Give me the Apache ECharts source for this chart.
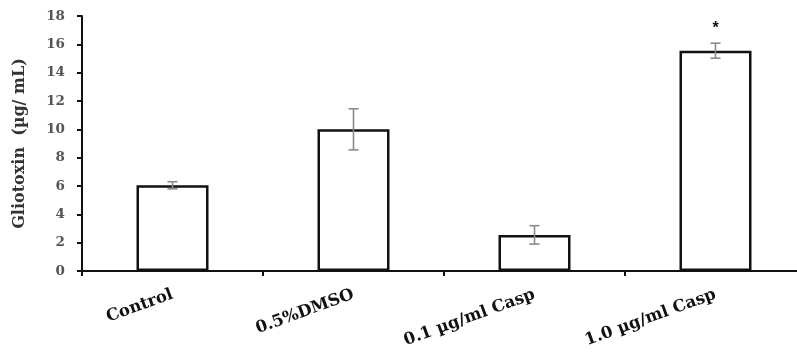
<!DOCTYPE html>
<html>
<head>
<meta charset="utf-8">
<script src="https://cdn.jsdelivr.net/npm/echarts@6/dist/echarts.min.js"></script>
<style>
html, body { margin: 0; padding: 0; background: #fff; }
#chart { width: 797px; height: 352px; }
</style>
</head>
<body>
<div id="chart"></div>
<script>
// groups and measured gliotoxin
const groups = ['Control', '0.5%DMSO', '0.1 µg/ml Casp', '1.0 µg/ml Casp']
const means = [6.05, 10.0, 2.55, 15.55]
const errs = [0.25, 1.45, 0.65, 0.53]
const marks = ['', '', '', '*']
const yTicks = [0, 2, 4, 6, 8, 10, 12, 14, 16, 18]

const chart = echarts.init(document.getElementById('chart'))
const fontFam = '"DejaVu Serif", serif'

const option = {
  backgroundColor: '#fff',
  animation: false,
  grid: {
    left: 82,
    top: 16,
    width: 724,
    bottom: 81,
    outerBoundsMode: 'none'
  },
  xAxis: {
    type: 'category',
    data: groups,
    axisLine: {
      lineStyle: { color: '#111', width: 2 }
    },
    axisTick: {
      show: true,
      length: 5,
      lineStyle: { color: '#111', width: 2 }
    },
    axisLabel: {
      rotate: 20,
      margin: 23,
      color: '#111',
      fontFamily: fontFam,
      fontWeight: 'bold',
      fontSize: 16.5
    }
  },
  yAxis: {
    type: 'value',
    min: yTicks[0],
    max: yTicks[yTicks.length - 1],
    interval: 2,
    name: 'Gliotoxin  (µg/ mL)',
    nameLocation: 'middle',
    nameGap: 54,
    nameTextStyle: {
      color: '#333',
      fontFamily: fontFam,
      fontWeight: 'bold',
      fontSize: 16
    },
    splitLine: { show: false },
    axisLine: {
      show: true,
      lineStyle: { color: '#111', width: 2 }
    },
    axisTick: {
      show: true,
      length: 5,
      lineStyle: { color: '#111', width: 2 }
    },
    axisLabel: {
      margin: 17,
      color: '#555',
      fontFamily: fontFam,
      fontWeight: 'bold',
      fontSize: 13.5
    }
  },
  series: [{
    type: 'bar',
    data: means,
    barWidth: 72,
    itemStyle: {
      color: '#fff',
      borderColor: '#111',
      borderWidth: 2.5
    },
    label: {
      show: true,
      position: 'top',
      distance: 14,
      color: '#111',
      fontSize: 16,
      fontWeight: 'bold',
      formatter: (p) => marks[p.dataIndex]
    },
    z: 2
  }, {
    type: 'custom',
    data: means.map((m, i) => [i, m - errs[i], m + errs[i]]),
    renderItem: (params, api) => {
      const lo = api.coord([api.value(0), api.value(1)])
      const hi = api.coord([api.value(0), api.value(2)])
      const cap = 5
      const style = { stroke: '#8a8a8a', lineWidth: 1.6 }
      return {
        type: 'group',
        children: [
          { type: 'line', shape: { x1: lo[0], y1: lo[1], x2: hi[0], y2: hi[1] }, style },
          { type: 'line', shape: { x1: lo[0] - cap, y1: lo[1], x2: lo[0] + cap, y2: lo[1] }, style },
          { type: 'line', shape: { x1: hi[0] - cap, y1: hi[1], x2: hi[0] + cap, y2: hi[1] }, style }
        ]
      }
    },
    z: 3
  }]
}
chart.setOption(option)
</script>
</body>
</html>
